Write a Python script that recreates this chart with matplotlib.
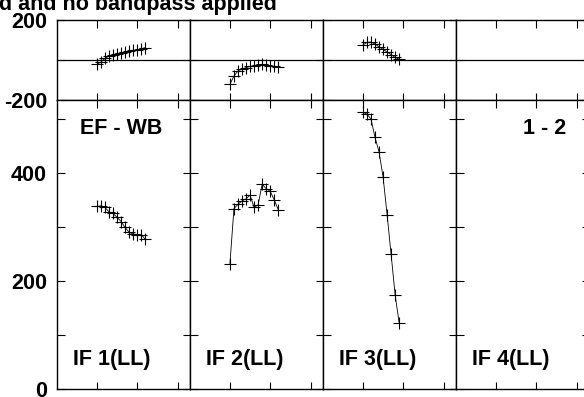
import matplotlib
matplotlib.use("Agg")
import matplotlib.pyplot as plt

# ---------------- data ----------------
title_text = "d and no bandpass applied"
baseline_label = "EF - WB"
pol_label = "1 - 2"
if_labels = ["IF 1(LL)", "IF 2(LL)", "IF 3(LL)", "IF 4(LL)"]

channels_if1 = [10, 11, 12, 13, 14, 15, 16, 17, 18, 19, 20, 21, 22]
phase_if1 = [-22, -10, 8, 20, 27, 32, 36, 40, 44, 48, 52, 56, 62]
amp_if1 = [338, 339, 336, 328, 325, 318, 310, 299, 290, 287, 286, 286, 277]

channels_if2 = [10, 11, 12, 13, 14, 15, 16, 17, 18, 19, 20, 21, 22]
phase_if2 = [-122, -80, -55, -45, -38, -32, -28, -24, -22, -24, -28, -32, -35]
amp_if2 = [231, 334, 342, 348, 352, 359, 336, 341, 379, 371, 366, 350, 332]

channels_if3 = [10, 11, 12, 13, 14, 15, 16, 17, 18, 19]
phase_if3 = [75, 88, 90, 80, 66, 53, 40, 27, 13, 4]
amp_if3 = [512, 509, 500, 466, 439, 393, 323, 249, 174, 122]

channels_if4 = []
phase_if4 = []
amp_if4 = []

channel_ticks = [10, 20, 30]
phase_ticks = [-200, 0, 200]
phase_ticklabels = ["-200", "", "200"]
amp_ticks = [0, 100, 200, 300, 400, 500]
amp_ticklabels = ["0", "", "200", "", "400", ""]

# ---------------- layout ----------------
W, H = 584, 397
fig = plt.figure(figsize=(W / 100, H / 100), dpi=100)
plt.rcParams['font.family'] = ['Liberation Sans', 'DejaVu Sans']

panel_left = 56.6
panel_w = 133.0
ph_top, ph_bot = 20.0, 100.0
am_top, am_bot = 100.0, 389.0

FS = 15.5
series = [
    (channels_if1, phase_if1, amp_if1),
    (channels_if2, phase_if2, amp_if2),
    (channels_if3, phase_if3, amp_if3),
    (channels_if4, phase_if4, amp_if4),
]


def frac(x0, y0, w, h):
    return [x0 / W, 1 - (y0 + h) / H, w / W, h / H]


def style(ax):
    for s in ax.spines.values():
        s.set_linewidth(1.0)
        s.set_color("black")
    ax.tick_params(direction="in", length=5.4, width=0.8, top=True, right=True,
                   bottom=True, left=True, labelsize=FS, pad=7,
                   labelbottom=False)
    ax.set_xlim(0, 33)
    ax.set_xticks(channel_ticks)


line_kw = dict(color="black", lw=0.6, marker="+", ms=8, mew=0.8)

for i, (ch, ph, am) in enumerate(series):
    x0 = panel_left + i * panel_w
    axp = fig.add_axes(frac(x0, ph_top, panel_w, ph_bot - ph_top))
    axa = fig.add_axes(frac(x0, am_top, panel_w, am_bot - am_top))
    for ax in (axp, axa):
        style(ax)
    axp.set_ylim(-200, 200)
    axp.set_yticks(phase_ticks)
    axp.axhline(0, color="black", lw=0.9, zorder=1)
    axa.set_ylim(0, 535)
    axa.set_yticks(amp_ticks)
    if i == 0:
        axp.set_yticklabels(phase_ticklabels, fontweight="bold")
        axa.set_yticklabels(amp_ticklabels, fontweight="bold")
    else:
        axp.tick_params(labelleft=False)
        axa.tick_params(labelleft=False)
    if len(ch):
        axp.plot(ch, ph, **line_kw)
        axa.plot(ch, am, **line_kw)
    axa.text(16.5 / panel_w, 1 - (360 - am_top) / (am_bot - am_top), if_labels[i],
             transform=axa.transAxes, ha="left", va="center",
             fontsize=FS, fontweight="bold")
    if i == 0:
        axa.text((80 - x0) / panel_w, 1 - (128 - am_top) / (am_bot - am_top),
                 baseline_label, transform=axa.transAxes, ha="left", va="center",
                 fontsize=FS, fontweight="bold")
    if i == 3:
        axa.text((566 - x0) / panel_w, 1 - (128 - am_top) / (am_bot - am_top),
                 pol_label, transform=axa.transAxes, ha="right", va="center",
                 fontsize=FS, fontweight="bold")

fig.text(-1 / W, 1 - 10 / H, title_text, ha="left", va="baseline",
         fontsize=FS, fontweight="bold")

fig.savefig("out.png", dpi=100)
